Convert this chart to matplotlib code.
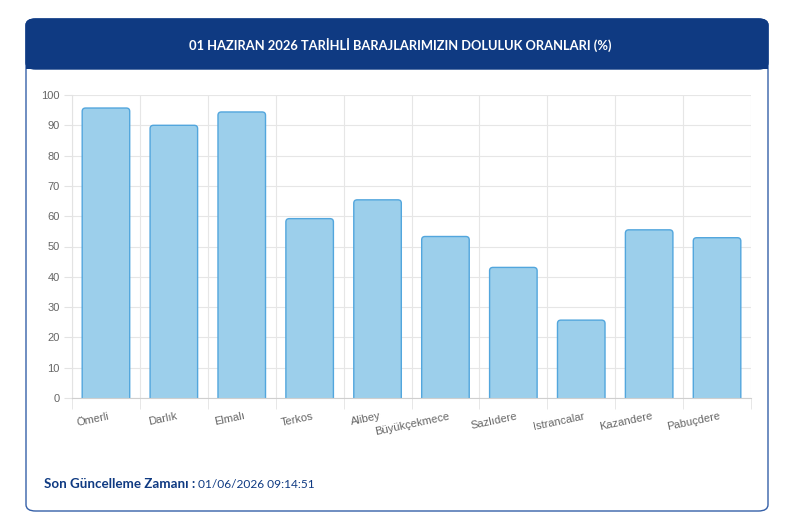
import matplotlib
matplotlib.use("Agg")
import matplotlib.pyplot as plt
from matplotlib.patches import FancyBboxPatch, Rectangle
import matplotlib.transforms as mtransforms
import numpy as np

categories = ["Ömerli", "Darlık", "Elmalı", "Terkos", "Alibey", "Büyükçekmece",
              "Sazlıdere", "Istrancalar", "Kazandere", "Pabuçdere"]
values = [95.7, 90.0, 94.4, 59.2, 65.4, 53.3, 43.1, 25.7, 55.5, 52.9]
yticks = [0, 10, 20, 30, 40, 50, 60, 70, 80, 90, 100]
title = "01 HAZIRAN 2026 TARİHLİ BARAJLARIMIZIN DOLULUK ORANLARI (%)"
footer_label = "Son Güncelleme Zamanı :"
footer_value = " 01/06/2026 09:14:51"

W, H = 800, 525
fig = plt.figure(figsize=(8, 5.25), dpi=100)
fig.patch.set_facecolor("white")

def fx(px):
    return px / W

def fy(py):
    return 1 - py / H

navy = "#0f3a82"

# card
card = FancyBboxPatch((fx(26), fy(511)), fx(768) - fx(26), fy(19) - fy(511),
                      boxstyle="round,pad=0,rounding_size=0.012",
                      transform=fig.transFigure, facecolor="white",
                      edgecolor="#3560a8", linewidth=1.0, zorder=0)
fig.patches.append(card)
# header
hdr = FancyBboxPatch((fx(26), fy(69)), fx(768) - fx(26), fy(19) - fy(69),
                     boxstyle="round,pad=0,rounding_size=0.012",
                     transform=fig.transFigure, facecolor=navy,
                     edgecolor=navy, linewidth=1.0, zorder=1)
fig.patches.append(hdr)
fig.patches.append(Rectangle((fx(26), fy(69)), fx(768) - fx(26), fy(55) - fy(69),
                             transform=fig.transFigure, facecolor=navy,
                             edgecolor="none", zorder=1))
fig.text(0.5, fy(45), title, ha="center", va="center", color="white",
         fontsize=9.3, fontweight="bold", family="Lato", zorder=3)

# axes
ax = fig.add_axes([fx(72), fy(398), fx(751) - fx(72), fy(95) - fy(398)])
ax.set_zorder(5)
ax.set_facecolor("none")
x = np.arange(len(categories))
bars = ax.bar(x, values, width=0.70, color="none", edgecolor="none")
for b in bars:
    ax.add_patch(FancyBboxPatch((b.get_x(), b.get_y() - 5), b.get_width(), b.get_height() + 5,
                                boxstyle="round,pad=0,rounding_size=0.05",
                                mutation_aspect=22,
                                facecolor="#9ccfeb", edgecolor="#52a6dd",
                                linewidth=1.0, zorder=2, clip_on=True))

ax.set_xlim(-0.5, len(categories) - 0.5)
ax.set_ylim(0, 100)
ax.set_yticks(yticks)
ax.set_yticklabels([str(v) for v in yticks], fontsize=8, color="#666666",
                   family="Liberation Sans")
ax.set_xticks(x)
ax.set_xticklabels(categories, fontsize=8, color="#666666", family="Liberation Sans",
                   rotation=12, ha="right", va="center", rotation_mode="anchor")
ax.tick_params(axis="x", length=0, pad=13)
ax.tick_params(axis="y", length=6, color="#e3e3e3", pad=3)
offset = mtransforms.ScaledTranslation(0.035, 0, fig.dpi_scale_trans)
for lab in ax.get_xticklabels():
    lab.set_transform(lab.get_transform() + offset)
# vertical grid at category boundaries
ax.set_xticks(np.arange(-0.5, len(categories), 1), minor=True)
ax.tick_params(axis="x", which="minor", length=8, color="#e3e3e3")
ax.grid(True, which="minor", axis="x", color="#e6e6e6", linewidth=0.8)
ax.grid(True, which="major", axis="y", color="#e6e6e6", linewidth=0.8)
ax.set_axisbelow(True)
for s in ["top", "right"]:
    ax.spines[s].set_visible(False)
ax.spines["left"].set_color("#e3e3e3")
ax.spines["bottom"].set_color("#cfcfcf")

t1 = fig.text(fx(44), fy(484), footer_label, ha="left", va="center", color=navy,
              fontsize=9.6, fontweight="bold", family="Lato")
fig.canvas.draw()
bb = t1.get_window_extent()
fig.text(bb.x1 / W, fy(484), footer_value, ha="left", va="center", color=navy,
         fontsize=8.6, family="Lato")

fig.savefig("out.png", dpi=100, facecolor="white")
